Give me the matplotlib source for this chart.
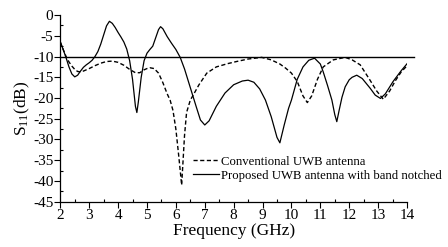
import matplotlib
matplotlib.use("Agg")
import matplotlib.pyplot as plt
from matplotlib.ticker import MultipleLocator

plt.rcParams['font.family'] = ['Liberation Serif', 'DejaVu Serif']
plt.rcParams['mathtext.fontset'] = 'custom'
plt.rcParams['mathtext.rm'] = 'Liberation Serif'
plt.rcParams['mathtext.it'] = 'Liberation Serif:italic'
plt.rcParams['axes.unicode_minus'] = False

# Proposed UWB antenna with band notched (solid)
freq_prop = [2.0, 2.1, 2.2, 2.3, 2.4, 2.5, 2.6, 2.7, 2.8, 2.9, 3.0, 3.1, 3.2, 3.3, 3.4,
             3.5, 3.6, 3.7, 3.8, 3.9, 4.0, 4.1, 4.2, 4.3, 4.4, 4.5, 4.6, 4.65, 4.7, 4.8,
             4.9, 5.0, 5.1, 5.2, 5.3, 5.4, 5.47, 5.55, 5.7, 5.85, 6.0, 6.15, 6.3, 6.5,
             6.7, 6.85, 7.0, 7.15, 7.4, 7.7, 8.0, 8.3, 8.5, 8.7, 8.9, 9.1, 9.3, 9.5,
             9.6, 9.75, 9.9, 10.0, 10.2, 10.4, 10.6, 10.8, 11.0, 11.1, 11.25, 11.4,
             11.5, 11.57, 11.65, 11.75, 11.86, 12.0, 12.1, 12.26, 12.45, 12.72, 12.9,
             13.08, 13.25, 13.52, 13.8, 14.03]
s11_prop = [-6.5, -8.3, -10.3, -12.5, -14.2, -14.9, -14.5, -13.5, -12.6, -12.0, -11.5,
            -10.9, -10.0, -8.8, -7.0, -4.8, -2.6, -1.5, -2.0, -3.0, -4.2, -5.3, -6.5,
            -8.2, -11.0, -15.5, -22.0, -23.5, -21.0, -15.0, -11.0, -9.2, -8.3, -7.5,
            -5.5, -3.5, -2.8, -3.3, -5.2, -6.8, -8.3, -10.2, -13.0, -17.5, -22.0,
            -25.3, -26.5, -25.5, -22.0, -18.8, -16.8, -15.9, -15.7, -16.2, -17.8,
            -20.5, -24.5, -29.5, -30.8, -26.5, -22.5, -20.5, -15.5, -12.5, -10.9,
            -10.4, -11.8, -13.7, -17.0, -20.5, -24.0, -25.7, -23.0, -19.8, -17.3,
            -15.6, -15.0, -14.5, -15.3, -17.6, -19.3, -20.1, -19.0, -16.0, -13.4, -11.5]

# Conventional UWB antenna (dashed)
freq_conv = [2.0, 2.1, 2.2, 2.3, 2.4, 2.5, 2.6, 2.7, 2.8, 2.9, 3.0, 3.2, 3.4, 3.6, 3.8,
             4.0, 4.2, 4.4, 4.6, 4.75, 4.9, 5.0, 5.1, 5.25, 5.4, 5.55, 5.7, 5.8, 5.9,
             6.0, 6.1, 6.2, 6.3, 6.37, 6.5, 6.6, 6.8, 7.07, 7.4, 7.8, 8.1, 8.5, 8.97,
             9.3, 9.6, 9.8, 10.0, 10.2, 10.4, 10.55, 10.7, 10.9, 11.1, 11.45, 11.86,
             12.1, 12.38, 12.72, 12.95, 13.18, 13.4, 13.6, 13.8, 14.03]
s11_conv = [-6.5, -8.3, -10.0, -11.3, -12.3, -13.1, -13.6, -13.7, -13.5, -13.2, -12.9,
            -12.2, -11.6, -11.2, -11.1, -11.4, -12.1, -13.1, -13.9, -13.9, -13.2,
            -12.9, -12.7, -12.9, -14.0, -16.3, -19.0, -20.5, -23.0, -27.5, -34.0,
            -41.0, -29.0, -23.5, -20.5, -19.3, -16.8, -14.0, -12.5, -11.7, -11.2,
            -10.6, -10.2, -10.8, -11.8, -12.8, -14.0, -16.0, -19.5, -21.1, -19.5,
            -15.5, -12.5, -10.8, -10.2, -10.8, -12.0, -15.7, -18.3, -20.3, -18.3,
            -15.8, -13.7, -12.0]

ref_freq = [2.0, 14.25]
ref_level = [-10.0, -10.0]

xticks = [2, 3, 4, 5, 6, 7, 8, 9, 10, 11, 12, 13, 14]
yticks = [0, -5, -10, -15, -20, -25, -30, -35, -40, -45]

fig = plt.figure(figsize=(4.48, 2.47), dpi=100)
ax = fig.add_axes([0.1346, 0.1834, 0.7739, 0.7556])

ax.plot(freq_conv, s11_conv, color='black', lw=1.0, dashes=(3, 1.8),
        label='Conventional UWB antenna')
ax.plot(freq_prop, s11_prop, color='black', lw=0.9,
        label='Proposed UWB antenna with band notched')
ax.plot(ref_freq, ref_level, color='black', lw=1.0, clip_on=False)

ax.set_xlim(2, 14)
ax.set_ylim(-45, 0)
ax.set_xticks(xticks)
ax.set_xticklabels([str(v) for v in xticks])
ax.set_yticks(yticks)
ax.set_yticklabels([str(v) for v in yticks])
ax.xaxis.set_minor_locator(MultipleLocator(0.5))
ax.yaxis.set_minor_locator(MultipleLocator(2.5))
ax.tick_params(which='major', direction='out', length=4, width=0.8, labelsize=11, pad=1)
ax.tick_params(which='minor', direction='in', length=2.5, width=0.8)

for side in ['top', 'right']:
    ax.spines[side].set_visible(False)
for side in ['left', 'bottom']:
    ax.spines[side].set_linewidth(0.9)

ax.set_xlabel('Frequency (GHz)', fontsize=12.5, labelpad=1)
ax.set_ylabel(r'S$_{\mathrm{11}}$(dB)', fontsize=12.5, labelpad=1)

ax.legend(loc='upper left', bbox_to_anchor=(0.431, 0.37), bbox_transform=fig.transFigure,
          frameon=False, fontsize=9.2, handlelength=2.0, handletextpad=0.2,
          borderpad=0, borderaxespad=0, labelspacing=0.15)

fig.savefig('out.png', dpi=100)
